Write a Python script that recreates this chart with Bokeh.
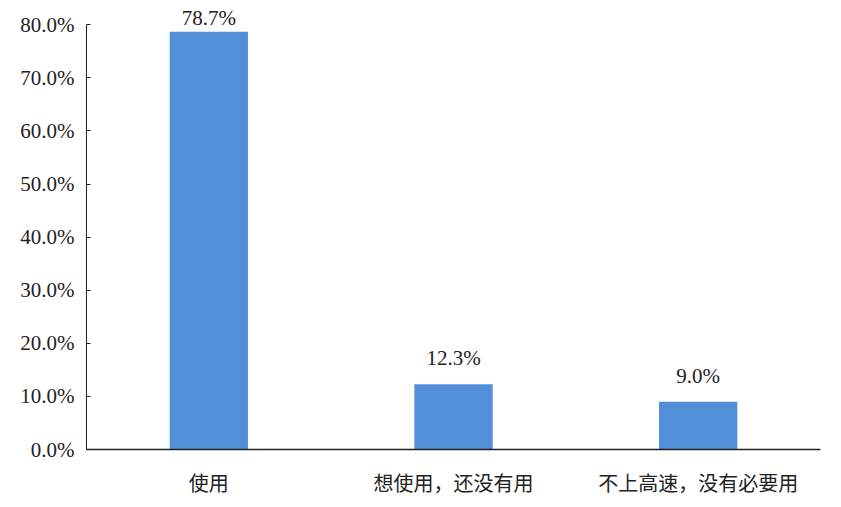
from bokeh.plotting import figure
from bokeh.models import Range1d, FixedTicker, ColumnDataSource, CustomJSTickFormatter
from bokeh.core.properties import value
from bokeh.embed import file_html
from bokeh.resources import INLINE

categories = ["使用", "想使用，还没有用", "不上高速，没有必要用"]
values = [78.7, 12.3, 9.0]
labels = ["78.7%", "12.3%", "9.0%"]
y_ticks = [0, 10, 20, 30, 40, 50, 60, 70, 80]

label_offsets = [-14 if v > 75 else -26 for v in values]
src = ColumnDataSource(dict(cat=categories, val=values, lab=labels, off=label_offsets))

p = figure(x_range=categories, y_range=Range1d(0, 84), width=833, height=499,
           output_backend="svg", toolbar_location=None,
           min_border_left=86, min_border_right=13, min_border_top=3, min_border_bottom=50)
p.outline_line_color = None
p.xgrid.grid_line_color = None
p.ygrid.grid_line_color = None
p.x_range.range_padding = 0

p.vbar(x="cat", top="val", width=0.32, source=src, fill_color="#5190D8", line_color=None)
p.text(x="cat", y="val", text="lab", y_offset="off", source=src,
       text_align="center", text_baseline="alphabetic",
       text_font=value("Liberation Serif"), text_font_size="21px", text_color="#222222")

p.yaxis.ticker = FixedTicker(ticks=y_ticks)
p.yaxis.bounds = (0, 80)
p.yaxis.formatter = CustomJSTickFormatter(code="return tick.toFixed(1) + '%';")
p.yaxis.major_tick_in = 4
p.yaxis.major_tick_out = 0
p.yaxis.minor_tick_line_color = None
p.yaxis.axis_line_color = "#222222"
p.yaxis.major_tick_line_color = "#222222"
p.yaxis.major_label_text_font = "Liberation Serif"
p.yaxis.major_label_text_font_size = "21px"
p.yaxis.major_label_text_color = "#222222"
p.yaxis.major_label_standoff = 12

p.xaxis.major_tick_line_color = None
p.xaxis.minor_tick_line_color = None
p.xaxis.axis_line_color = "#222222"
p.xaxis.axis_line_width = 1.5
p.xaxis.major_label_text_font = "Noto Sans CJK SC"
p.xaxis.major_label_text_font_size = "20px"
p.xaxis.major_label_text_color = "#222222"
p.xaxis.major_label_standoff = 12

open("out.html", "w").write(file_html(p, INLINE))
